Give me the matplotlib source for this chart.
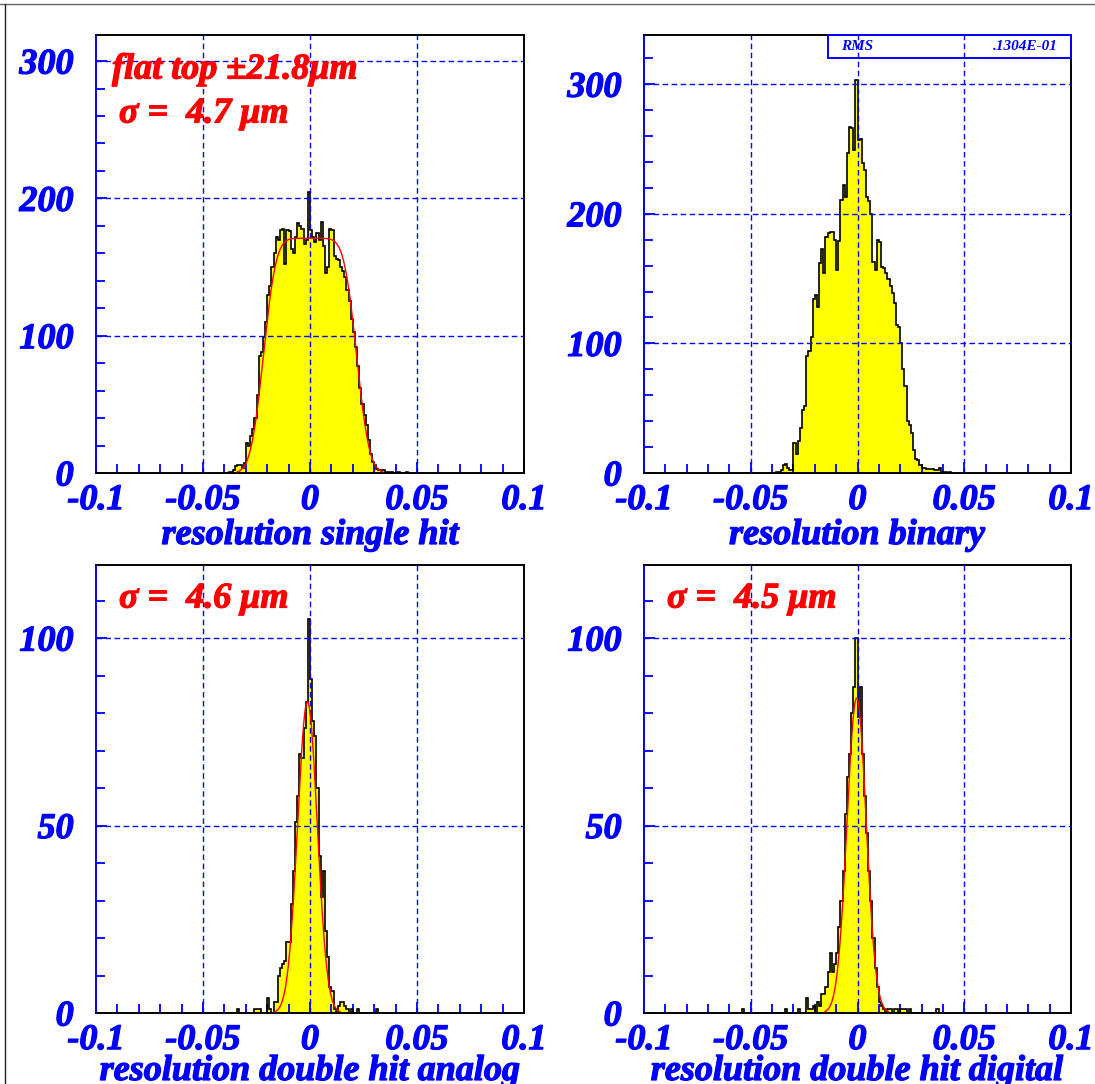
import math
import numpy as np
import matplotlib
matplotlib.use("Agg")
import matplotlib.pyplot as plt
import matplotlib.patheffects as pe
from matplotlib.ticker import MultipleLocator
from matplotlib.patches import Rectangle

# histogram bin width (mm) and first bin edge of each stored series
BIN = 0.001

# single hit residuals, bins starting at -0.040
single_x0 = -0.040
single_counts = [0, 0, 1, 1, 2, 5, 6, 6, 4, 7,
                 22, 20, 27, 32, 40, 57, 85, 88, 99, 110,
                 130, 136, 150, 160, 172, 170, 177, 178, 152, 177,
                 176, 163, 160, 172, 182, 180, 178, 167, 170, 205,
                 177, 172, 168, 175, 170, 183, 165, 146, 150, 178,
                 177, 158, 156, 155, 150, 147, 143, 133, 125, 112,
                 103, 92, 78, 62, 50, 42, 35, 24, 14, 8,
                 6, 3, 2, 2, 2, 1, 1, 1, 1, 0,
                 0, 1, 0, 0, 0, 1]

# binary readout residuals, bins starting at -0.040
binary_x0 = -0.040
binary_counts = [0, 0, 1, 1, 2, 6, 7, 4, 2, 2,
                 23, 15, 25, 35, 49, 52, 90, 94, 105, 134,
                 137, 128, 162, 173, 154, 182, 185, 186, 186, 180,
                 157, 179, 211, 222, 213, 247, 267, 266, 249, 303,
                 257, 258, 239, 234, 213, 210, 200, 163, 157, 180,
                 178, 159, 158, 154, 150, 144, 139, 131, 114, 113,
                 100, 80, 67, 40, 37, 31, 18, 11, 10, 6,
                 4, 4, 3, 3, 3, 3, 2, 2, 4, 1,
                 1, 1, 0, 1]

# double hit, analog readout, bins starting at -0.034
analog_x0 = -0.034
analog_counts = [1, 0, 0, 0, 0, 0, 0, 0, 1, 1,
                 1, 0, 0, 0, 4, 1, 0, 3, 3, 10,
                 12, 13, 14, 19, 19, 29, 38, 51, 58, 69,
                 68, 76, 83, 105, 89, 78, 74, 60, 42, 31,
                 38, 22, 15, 7, 6, 1, 0, 2, 3, 3,
                 2, 1, 0, 1, 0, 0, 1, 0, 0, 0,
                 0, 0, 0, 0, 0, 1]

# double hit, digital readout, bins starting at -0.054
digital_x0 = -0.054
digital_counts = ([1] + [0] * 19 + [1, 0, 0, 0, 0, 0, 1, 0, 0, 0,
                  4, 1, 1, 2, 0, 3, 2, 5, 5, 7,
                  11, 16, 11, 13, 16, 23, 30, 38, 53, 63,
                  69, 80, 87, 100, 79, 87, 69, 58, 48, 38,
                  30, 20, 12, 7, 3, 2, 1, 0, 1, 1,
                  0, 1, 1, 0, 1, 1, 1, 0, 1]
                  + [0] * 12 + [1])

# fit results quoted on the plots (mm)
flat_half, flat_sigma, flat_amp, flat_mu = 0.0218, 0.0047, 171.0, 0.0
analog_sigma, analog_amp, analog_mu = 0.0046, 83.0, -0.0012
digital_sigma, digital_amp, digital_mu = 0.0045, 84.0, -0.0004

x_ticks = [-0.1, -0.05, 0, 0.05, 0.1]
x_labels = ["-0.1", "-0.05", "0", "0.05", "0.1"]

W, H = 1095, 1084
BLUE = "#0000ff"
FONT = dict(family="Liberation Serif", weight="bold", style="italic")


def heavy(color, w=0.9):
    # thicken the glyphs a little with an outline in the same colour
    return [pe.withStroke(linewidth=w, foreground=color)]


def box(l, t, r, b):
    return [l / W, 1 - b / H, (r - l) / W, (b - t) / H]


def flat_top(x, amp, half, sigma, mu):
    s = sigma * math.sqrt(2)
    return np.array([0.5 * amp * (math.erf((v - mu + half) / s) - math.erf((v - mu - half) / s)) for v in x])


def gauss(x, amp, sigma, mu):
    return amp * np.exp(-0.5 * ((x - mu) / sigma) ** 2)


def draw_hist(ax, x0, counts):
    edges = x0 + BIN * np.arange(len(counts) + 1)
    ax.stairs(counts, edges, fill=True, color="#ffff00", zorder=1)
    ax.stairs(counts, edges, color="black", lw=1.2, zorder=2)


def style(ax, ymax, yticks, yminor):
    ax.set_xlim(-0.1, 0.1)
    ax.set_ylim(0, ymax)
    ax.set_xticks(x_ticks)
    ax.set_xticklabels(x_labels)
    ax.set_yticks(yticks)
    ax.set_yticklabels([str(v) for v in yticks])
    ax.xaxis.set_minor_locator(MultipleLocator(0.01))
    ax.yaxis.set_minor_locator(MultipleLocator(yminor))
    ax.tick_params(which="both", direction="in", colors=BLUE, width=1.3,
                   top=False, right=False)
    ax.tick_params(which="major", length=8)
    ax.tick_params(which="minor", length=6.5)
    ax.tick_params(axis="x", which="major", pad=8)
    ax.tick_params(axis="y", which="major", pad=16)
    for lab in ax.get_xticklabels() + ax.get_yticklabels():
        lab.set_fontfamily(FONT["family"])
        lab.set_fontweight("bold")
        lab.set_fontstyle("italic")
        lab.set_fontsize(26)
        lab.set_color(BLUE)
        lab.set_path_effects(heavy(BLUE))
    for side in ["top", "right", "bottom"]:
        ax.spines[side].set_color("black")
        ax.spines[side].set_linewidth(1.4)
    ax.spines["left"].set_color(BLUE)
    ax.spines["left"].set_linewidth(1.4)
    for v in x_ticks[1:-1]:
        ax.axvline(v, color=BLUE, lw=1.0, ls=(0, (4, 2.5)), zorder=3)
    for v in yticks[1:]:
        ax.axhline(v, color=BLUE, lw=1.0, ls=(0, (4, 2.5)), zorder=3)


fig = plt.figure(figsize=(W / 100, H / 100), dpi=100)

ax1 = fig.add_axes(box(96, 35, 524, 473))
ax2 = fig.add_axes(box(644, 35, 1071, 473))
ax3 = fig.add_axes(box(96, 565, 524, 1013))
ax4 = fig.add_axes(box(644, 565, 1071, 1013))

# single hit with flat-top fit
draw_hist(ax1, single_x0, single_counts)
xf = np.linspace(-0.034, 0.034, 300)
ax1.plot(xf, flat_top(xf, flat_amp, flat_half, flat_sigma, flat_mu), color="red", lw=1.0, zorder=4)
style(ax1, 319, [0, 100, 200, 300], 20)

# binary readout
draw_hist(ax2, binary_x0, binary_counts)
style(ax2, 338, [0, 100, 200, 300], 20)
ax2.add_patch(Rectangle((0.432, 0.9475), 0.568, 0.0525, transform=ax2.transAxes,
                        fill=False, edgecolor=BLUE, lw=1.4, clip_on=False, zorder=5))
ax2.text(0.462, 0.974, "RMS", transform=ax2.transAxes, color=BLUE, fontsize=11,
         ha="left", va="center", **FONT)
ax2.text(0.969, 0.974, ".1304E-01", transform=ax2.transAxes, color=BLUE, fontsize=11,
         ha="right", va="center", **FONT)

# double hit analog with gaussian fit
draw_hist(ax3, analog_x0, analog_counts)
xg = np.linspace(analog_mu - 3.3 * analog_sigma, analog_mu + 3.3 * analog_sigma, 200)
ax3.plot(xg, gauss(xg, analog_amp, analog_sigma, analog_mu), color="red", lw=1.0, zorder=4)
style(ax3, 119.5, [0, 50, 100], 10)

# double hit digital with gaussian fit
draw_hist(ax4, digital_x0, digital_counts)
xg = np.linspace(digital_mu - 3.3 * digital_sigma, digital_mu + 3.3 * digital_sigma, 200)
ax4.plot(xg, gauss(xg, digital_amp, digital_sigma, digital_mu), color="red", lw=1.0, zorder=4)
style(ax4, 119.5, [0, 50, 100], 10)

# fit annotations
notes = [
    (112, 70, "flat top \u00b121.8\u03bcm"),
    (119, 114, "\u03c3 =  %.1f \u03bcm" % (flat_sigma * 1000)),
    (119, 599, "\u03c3 =  %.1f \u03bcm" % (analog_sigma * 1000)),
    (667, 599, "\u03c3 =  %.1f \u03bcm" % (digital_sigma * 1000)),
]
for px, py, s in notes:
    fig.text(px / W, 1 - py / H, s, color="red", fontsize=26, ha="left", va="center",
             path_effects=heavy("red"), **FONT)

# axis titles
titles = [
    (310, 544, "resolution single hit"),
    (857, 544, "resolution binary"),
    (310, 1080, "resolution double hit analog"),
    (857, 1080, "resolution double hit digital"),
]
for px, py, s in titles:
    fig.text(px / W, 1 - py / H, s, color=BLUE, fontsize=26, ha="center", va="baseline",
             path_effects=heavy(BLUE), **FONT)

# page frame lines
fig.add_artist(plt.Line2D([0, 1], [1 - 4 / H, 1 - 4 / H], color="#666666", lw=1.0))
fig.add_artist(plt.Line2D([5 / W, 5 / W], [0, 1 - 4 / H], color="#222222", lw=1.0))

fig.savefig("out.png", dpi=100)
